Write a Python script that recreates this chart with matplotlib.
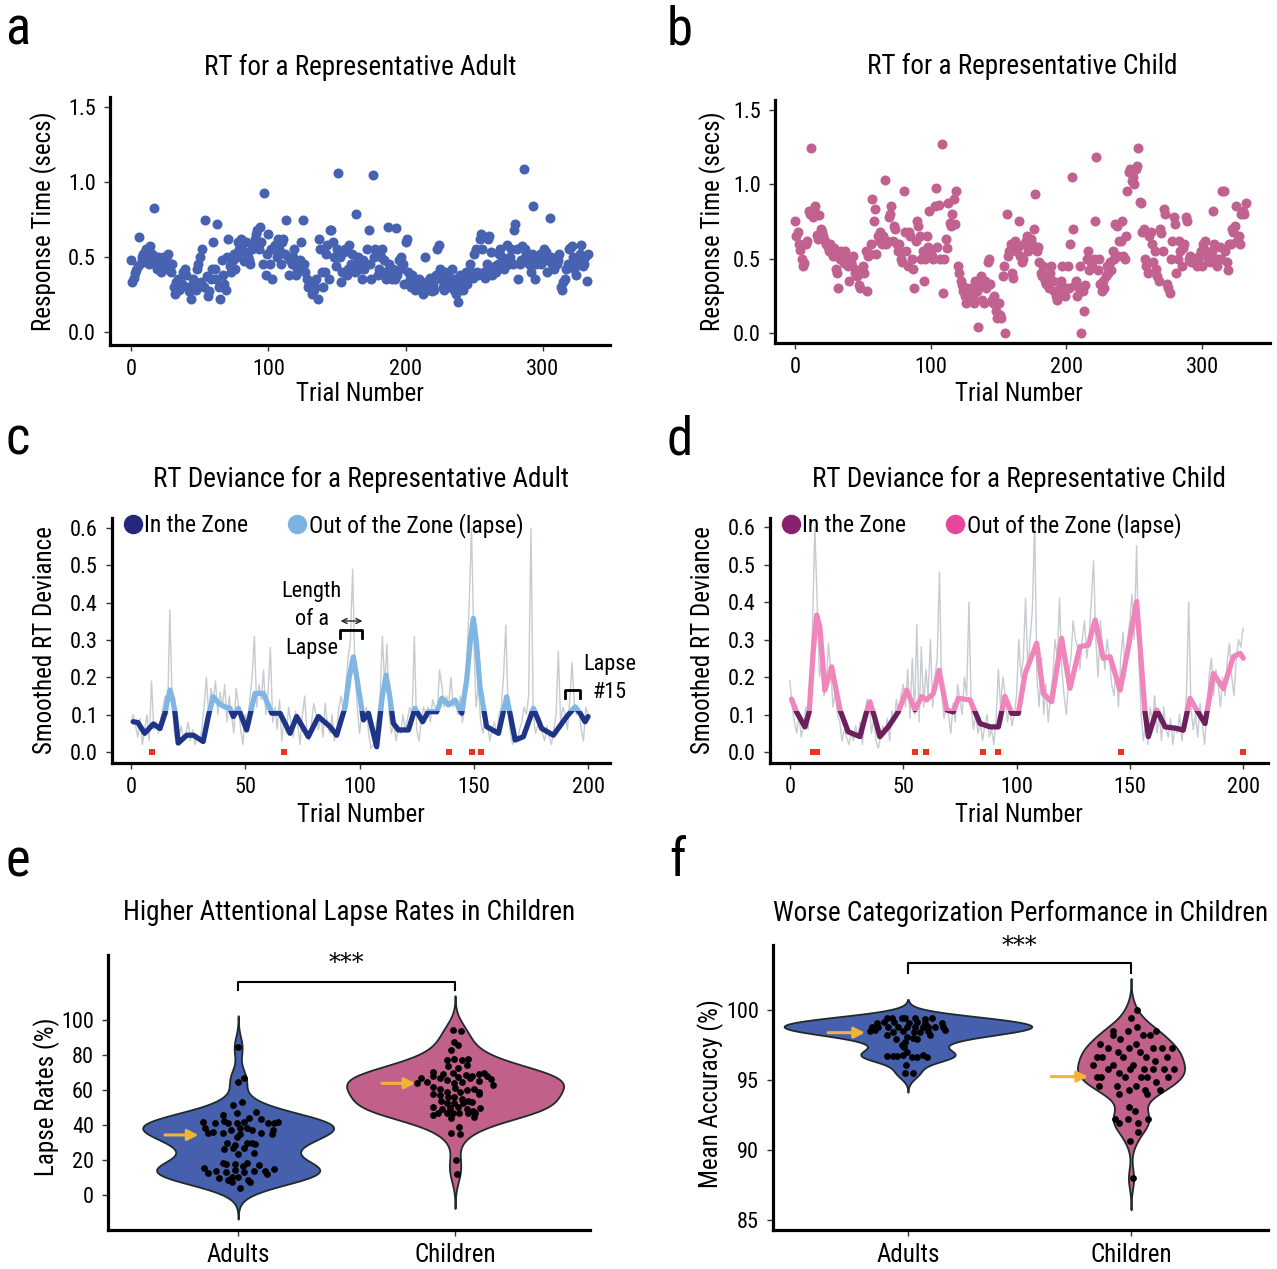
import numpy as np
import matplotlib
matplotlib.use("Agg")
import matplotlib.pyplot as plt
from matplotlib.patches import Rectangle
from matplotlib.lines import Line2D
from matplotlib import font_manager as fm

_avail = {f.name for f in fm.fontManager.ttflist}
_fams = [f for f in ['Roboto Condensed', 'Archivo Narrow', 'PT Sans Narrow', 'Liberation Sans Narrow']
         if f in _avail] + ['DejaVu Sans']
plt.rcParams['font.family'] = _fams

# ---------------- data ----------------
adult_rt = [
    0.48, 0.33, 0.36, 0.39, 0.41, 0.44, 0.63, 0.46, 0.50, 0.52,
    0.53, 0.55, 0.48, 0.45, 0.57, 0.52, 0.50, 0.83, 0.47, 0.42,
    0.50, 0.45, 0.40, 0.50, 0.49, 0.42, 0.47, 0.52, 0.45, 0.40,
    0.45, 0.30, 0.25, 0.33, 0.35, 0.28, 0.30, 0.32, 0.40, 0.42,
    0.38, 0.30, 0.27, 0.30, 0.22, 0.35, 0.34, 0.28, 0.42, 0.45,
    0.50, 0.33, 0.55, 0.30, 0.75, 0.37, 0.24, 0.27, 0.35, 0.42,
    0.60, 0.42, 0.35, 0.72, 0.30, 0.22, 0.48, 0.38, 0.32, 0.28,
    0.50, 0.62, 0.44, 0.40, 0.48, 0.52, 0.42, 0.50, 0.60, 0.55,
    0.62, 0.58, 0.47, 0.53, 0.60, 0.50, 0.48, 0.45, 0.55, 0.57,
    0.62, 0.65, 0.68, 0.55, 0.70, 0.60, 0.45, 0.93, 0.38, 0.52,
    0.65, 0.45, 0.55, 0.35, 0.55, 0.58, 0.50, 0.62, 0.55, 0.45,
    0.60, 0.62, 0.52, 0.75, 0.50, 0.38, 0.48, 0.45, 0.50, 0.55,
    0.38, 0.42, 0.45, 0.48, 0.60, 0.75, 0.45, 0.40, 0.35, 0.30,
    0.32, 0.30, 0.25, 0.28, 0.30, 0.35, 0.22, 0.62, 0.55, 0.40,
    0.30, 0.40, 0.52, 0.58, 0.35, 0.68, 0.68, 0.60, 0.50, 0.44,
    0.55, 1.06, 0.50, 0.33, 0.40, 0.53, 0.55, 0.38, 0.42, 0.58,
    0.45, 0.52, 0.45, 0.40, 0.79, 0.50, 0.45, 0.42, 0.35, 0.48,
    0.42, 0.45, 0.55, 0.68, 0.45, 0.35, 1.05, 0.50, 0.55, 0.52,
    0.38, 0.42, 0.50, 0.55, 0.48, 0.40, 0.35, 0.70, 0.45, 0.38,
    0.35, 0.42, 0.35, 0.69, 0.38, 0.48, 0.42, 0.50, 0.45, 0.32,
    0.60, 0.62, 0.40, 0.35, 0.30, 0.38, 0.32, 0.28, 0.34, 0.30,
    0.35, 0.28, 0.30, 0.25, 0.50, 0.33, 0.28, 0.30, 0.36, 0.27,
    0.32, 0.28, 0.38, 0.55, 0.58, 0.42, 0.35, 0.30, 0.28, 0.40,
    0.35, 0.38, 0.30, 0.32, 0.42, 0.28, 0.35, 0.25, 0.20, 0.33,
    0.38, 0.30, 0.28, 0.35, 0.40, 0.32, 0.38, 0.45, 0.40, 0.36,
    0.52, 0.55, 0.40, 0.38, 0.62, 0.65, 0.55, 0.40, 0.36, 0.45,
    0.62, 0.64, 0.53, 0.38, 0.42, 0.44, 0.40, 0.45, 0.52, 0.55,
    0.50, 0.47, 0.42, 0.45, 0.58, 0.45, 0.50, 0.55, 0.45, 0.68,
    0.72, 0.55, 0.35, 0.45, 0.48, 0.57, 1.09, 0.55, 0.52, 0.48,
    0.45, 0.40, 0.52, 0.84, 0.35, 0.45, 0.48, 0.50, 0.52, 0.45,
    0.47, 0.55, 0.53, 0.40, 0.48, 0.76, 0.50, 0.45, 0.42, 0.48,
    0.45, 0.48, 0.52, 0.30, 0.28, 0.33, 0.35, 0.42, 0.45, 0.55,
    0.56, 0.57, 0.50, 0.42, 0.38, 0.45, 0.48, 0.52, 0.58, 0.44,
    0.45, 0.50, 0.34, 0.52,
]

child_rt = [
    0.75, 0.65, 0.68, 0.60, 0.56, 0.50, 0.45, 0.47, 0.60, 0.62,
    0.82, 0.80, 1.24, 0.78, 0.83, 0.85, 0.66, 0.63, 0.79, 0.70,
    0.68, 0.65, 0.62, 0.60, 0.58, 0.55, 0.60, 0.54, 0.52, 0.57,
    0.43, 0.40, 0.30, 0.50, 0.55, 0.52, 0.47, 0.55, 0.50, 0.45,
    0.35, 0.48, 0.45, 0.52, 0.40, 0.42, 0.38, 0.32, 0.30, 0.42,
    0.45, 0.40, 0.55, 0.28, 0.52, 0.53, 0.60, 0.90, 0.75, 0.83,
    0.53, 0.65, 0.62, 0.68, 0.60, 0.65, 1.03, 0.60, 0.62, 0.78,
    0.80, 0.85, 0.62, 0.72, 0.70, 0.60, 0.55, 0.60, 0.50, 0.48,
    0.95, 0.68, 0.55, 0.45, 0.68, 0.65, 0.50, 0.43, 0.30, 0.62,
    0.75, 0.72, 0.65, 0.50, 0.55, 0.35, 0.50, 0.65, 0.58, 0.82,
    0.55, 0.52, 0.50, 0.85, 0.97, 0.58, 0.86, 0.50, 1.27, 0.27,
    0.50, 0.63, 0.57, 0.87, 0.74, 0.72, 0.80, 0.90, 0.73, 0.95,
    0.45, 0.40, 0.35, 0.32, 0.28, 0.25, 0.20, 0.30, 0.28, 0.22,
    0.30, 0.25, 0.20, 0.35, 0.28, 0.04, 0.33, 0.38, 0.22, 0.20,
    0.35, 0.30, 0.48, 0.50, 0.33, 0.22, 0.20, 0.25, 0.15, 0.10,
    0.20, 0.12, 0.10, 0.38, 0.45, 0.00, 0.80, 0.52, 0.55, 0.60,
    0.40, 0.37, 0.62, 0.55, 0.58, 0.75, 0.52, 0.48, 0.50, 0.60,
    0.62, 0.65, 0.55, 0.58, 0.63, 0.60, 0.70, 0.93, 0.55, 0.58,
    0.48, 0.40, 0.38, 0.45, 0.35, 0.33, 0.38, 0.30, 0.40, 0.45,
    0.35, 0.28, 0.25, 0.22, 0.27, 0.30, 0.35, 0.45, 0.30, 0.25,
    0.30, 0.45, 0.30, 0.60, 1.05, 0.70, 0.32, 0.35, 0.25, 0.30,
    0.45, 0.00, 0.28, 0.15, 0.32, 0.50, 0.55, 0.42, 0.48, 0.45,
    0.50, 0.75, 1.18, 0.42, 0.50, 0.33, 0.28, 0.35, 0.30, 0.38,
    0.45, 0.40, 0.48, 0.42, 0.55, 0.50, 0.73, 0.72, 0.52, 0.62,
    0.62, 0.75, 0.52, 0.50, 0.65, 0.95, 1.08, 1.10, 1.02, 1.05,
    1.00, 1.10, 1.12, 1.24, 0.88, 0.87, 0.68, 0.70, 0.50, 0.45,
    0.40, 0.65, 0.68, 0.60, 0.48, 0.55, 0.43, 0.38, 0.35, 0.70,
    0.67, 0.55, 0.83, 0.80, 0.33, 0.30, 0.27, 0.50, 0.62, 0.78,
    0.73, 0.40, 0.50, 0.62, 0.55, 0.45, 0.57, 0.60, 0.78, 0.75,
    0.50, 0.52, 0.48, 0.50, 0.50, 0.47, 0.45, 0.50, 0.52, 0.55,
    0.45, 0.60, 0.62, 0.55, 0.50, 0.52, 0.48, 0.55, 0.82, 0.60,
    0.50, 0.45, 0.50, 0.58, 0.50, 0.95, 0.95, 0.55, 0.48, 0.42,
    0.60, 0.60, 0.70, 0.68, 0.72, 0.85, 0.62, 0.65, 0.60, 0.80,
    0.82, 0.80, 0.87,
]

adult_dev_raw = [
    0.08, 0.10, 0.07, 0.04, 0.09, 0.02, 0.06, 0.10, 0.03, 0.19,
    0.06, 0.08, 0.05, 0.09, 0.12, 0.15, 0.10, 0.38, 0.14, 0.05,
    0.02, 0.04, 0.07, 0.03, 0.05, 0.08, 0.03, 0.06, 0.02, 0.04,
    0.03, 0.06, 0.12, 0.20, 0.10, 0.17, 0.14, 0.19, 0.10, 0.16,
    0.12, 0.18, 0.08, 0.15, 0.10, 0.05, 0.17, 0.13, 0.06, 0.02,
    0.10, 0.08, 0.14, 0.20, 0.31, 0.12, 0.18, 0.14, 0.22, 0.10,
    0.16, 0.28, 0.08, 0.12, 0.06, 0.14, 0.03, 0.09, 0.05, 0.12,
    0.08, 0.04, 0.11, 0.07, 0.02, 0.10, 0.15, 0.05, 0.03, 0.08,
    0.13, 0.10, 0.06, 0.10, 0.04, 0.13, 0.07, 0.05, 0.10, 0.03,
    0.06, 0.12, 0.15, 0.10, 0.18, 0.25, 0.30, 0.49, 0.22, 0.12,
    0.05, 0.10, 0.08, 0.12, 0.05, 0.01, 0.02, 0.06, 0.10, 0.15,
    0.31, 0.18, 0.29, 0.10, 0.05, 0.08, 0.03, 0.07, 0.05, 0.10,
    0.06, 0.09, 0.12, 0.10, 0.31, 0.06, 0.03, 0.08, 0.12, 0.10,
    0.12, 0.08, 0.14, 0.12, 0.10, 0.22, 0.18, 0.12, 0.15, 0.13,
    0.20, 0.12, 0.14, 0.10, 0.15, 0.08, 0.12, 0.25, 0.40, 0.60,
    0.30, 0.12, 0.18, 0.08, 0.05, 0.10, 0.07, 0.03, 0.06, 0.08,
    0.05, 0.10, 0.12, 0.20, 0.34, 0.12, 0.05, 0.02, 0.04, 0.03,
    0.06, 0.08, 0.12, 0.10, 0.15, 0.60, 0.10, 0.05, 0.07, 0.09,
    0.05, 0.03, 0.07, 0.04, 0.02, 0.06, 0.10, 0.27, 0.08, 0.12,
    0.10, 0.06, 0.14, 0.24, 0.13, 0.10, 0.12, 0.06, 0.03, 0.12,
    0.10,
]
adult_dev_trials = [1, 3, 6, 9.8, 12.7, 14.9, 16, 17.1, 18.3, 19.3, 20.7, 24.4, 27.3, 31.6,
                    34, 36, 38.5, 41.1, 43.3, 44.8, 47, 50.6, 52.5, 54.3, 57.9, 61.6, 65.2,
                    69.6, 72.5, 77.6, 82, 87.1, 90, 93.7, 95.5, 97.3, 99.3, 101.7, 103.9,
                    107.5, 110, 111.6, 113.2, 114.8, 117, 121.4, 124.3, 127.6, 130.1, 133.8,
                    136, 138.9, 141.8, 144.7, 146.9, 148.5, 149.8, 151.2, 152.7, 155.6, 160.8,
                    164.4, 168.1, 171.7, 176.1, 179.7, 184.8, 190.7, 194.3, 196.5, 198.7, 200]
adult_dev_smooth = [0.081, 0.079, 0.050, 0.075, 0.063, 0.104, 0.140, 0.166, 0.140, 0.104, 0.024,
                    0.045, 0.045, 0.028, 0.100, 0.148, 0.130, 0.121, 0.117, 0.095, 0.117, 0.059,
                    0.110, 0.157, 0.157, 0.104, 0.104, 0.050, 0.095, 0.041, 0.095, 0.068, 0.045,
                    0.121, 0.200, 0.255, 0.180, 0.086, 0.104, 0.014, 0.150, 0.206, 0.150, 0.077,
                    0.059, 0.059, 0.117, 0.081, 0.108, 0.108, 0.144, 0.126, 0.139, 0.104, 0.193,
                    0.300, 0.358, 0.290, 0.175, 0.068, 0.050, 0.148, 0.032, 0.041, 0.117, 0.063,
                    0.045, 0.095, 0.121, 0.104, 0.081, 0.095]
adult_lapse_marks = [9, 67, 139, 149, 153]

child_dev_raw = [
    0.19, 0.12, 0.08, 0.05, 0.10, 0.04, 0.07, 0.12, 0.06, 0.15,
    0.35, 0.60, 0.40, 0.20, 0.25, 0.15, 0.18, 0.29, 0.22, 0.12,
    0.16, 0.10, 0.08, 0.03, 0.06, 0.04, 0.02, 0.05, 0.03, 0.07,
    0.04, 0.08, 0.02, 0.10, 0.14, 0.12, 0.05, 0.09, 0.03, 0.01,
    0.04, 0.07, 0.05, 0.09, 0.03, 0.11, 0.08, 0.14, 0.10, 0.15,
    0.18, 0.12, 0.22, 0.09, 0.25, 0.10, 0.34, 0.08, 0.28, 0.12,
    0.22, 0.15, 0.30, 0.12, 0.20, 0.25, 0.48, 0.16, 0.09, 0.12,
    0.10, 0.05, 0.13, 0.08, 0.18, 0.14, 0.10, 0.20, 0.15, 0.40,
    0.12, 0.06, 0.10, 0.05, 0.08, 0.03, 0.07, 0.10, 0.04, 0.06,
    0.02, 0.09, 0.22, 0.12, 0.20, 0.15, 0.08, 0.12, 0.07, 0.10,
    0.15, 0.30, 0.20, 0.25, 0.41, 0.22, 0.30, 0.38, 0.61, 0.20,
    0.12, 0.25, 0.10, 0.18, 0.08, 0.15, 0.20, 0.30, 0.25, 0.41,
    0.22, 0.15, 0.10, 0.20, 0.25, 0.35, 0.30, 0.28, 0.22, 0.30,
    0.35, 0.25, 0.30, 0.40, 0.51, 0.30, 0.20, 0.35, 0.28, 0.22,
    0.30, 0.25, 0.18, 0.15, 0.22, 0.12, 0.25, 0.32, 0.20, 0.30,
    0.35, 0.42, 0.30, 0.55, 0.25, 0.10, 0.03, 0.08, 0.02, 0.12,
    0.08, 0.15, 0.05, 0.10, 0.03, 0.12, 0.06, 0.04, 0.09, 0.02,
    0.07, 0.05, 0.10, 0.03, 0.08, 0.15, 0.40, 0.12, 0.06, 0.10,
    0.04, 0.13, 0.08, 0.02, 0.10, 0.20, 0.25, 0.15, 0.22, 0.18,
    0.12, 0.20, 0.15, 0.24, 0.29, 0.20, 0.15, 0.25, 0.30, 0.28,
    0.33,
]
child_dev_trials = [0.7, 2.9, 6.6, 8.5, 10.3, 11.8, 13.2, 15.4, 18.4, 22.1, 25.7, 30.9, 33.8,
                    35.3, 37.5, 39.7, 43.4, 47.8, 51.5, 55.2, 58.1, 60.3, 63.3, 65.8, 69.2,
                    72.1, 74.3, 79.5, 83.9, 88.3, 92.0, 94.9, 97.9, 100.8, 103.8, 108.9, 111.8,
                    115.5, 119.9, 123.6, 128.0, 131.7, 134.7, 138.3, 141.3, 145.7, 149.4,
                    153.0, 156.7, 158.2, 161.9, 165.6, 170.7, 173.6, 176.6, 179.5, 183.2,
                    186.9, 191.3, 195.7, 198.7, 200.1]
child_dev_smooth = [0.141, 0.107, 0.067, 0.107, 0.272, 0.365, 0.334, 0.165, 0.227, 0.112, 0.054,
                    0.041, 0.107, 0.134, 0.090, 0.041, 0.067, 0.107, 0.165, 0.112, 0.148, 0.139,
                    0.156, 0.218, 0.112, 0.107, 0.143, 0.139, 0.076, 0.067, 0.067, 0.148, 0.103,
                    0.103, 0.209, 0.290, 0.156, 0.134, 0.303, 0.170, 0.281, 0.285, 0.352, 0.250,
                    0.254, 0.165, 0.281, 0.401, 0.107, 0.041, 0.112, 0.067, 0.063, 0.058, 0.143,
                    0.112, 0.076, 0.209, 0.169, 0.254, 0.263, 0.250]
child_lapse_marks = [10, 11, 12, 55, 60, 85, 92, 146, 200]
zone_threshold = 0.11

lapse_adults = [84.4, 64.8, 67.0, 51.4, 52.9,
                41.9, 41.3, 45.7, 42.5, 41.0, 46.7, 41.3, 41.9, 43.8, 47.6, 43.2, 41.3, 41.0, 41.5,
                38.1, 35.6, 36.2, 35.6, 37.1, 38.1, 38.1, 37.1, 35.6, 37.1, 34.7,
                33.0, 34.7, 29.5, 28.6, 29.5, 29.9, 29.1,
                26.3, 26.7, 27.0, 24.2, 23.4,
                18.5, 17.5, 17.7, 16.6, 18.5, 17.1,
                15.2, 13.9, 12.4, 13.3, 14.3, 13.3, 13.9, 13.9, 11.8, 14.7,
                9.5, 8.6, 10.5, 10.5, 8.6, 7.6, 7.2, 4.2]
lapse_adults_jitter = [0.00, 0.00, 0.025, -0.025, 0.017,
                       -0.16, -0.106, -0.071, -0.063, -0.045, -0.006, -0.006, 0.028, 0.051, 0.083, 0.106, 0.137, 0.163, 0.183,
                       -0.152, -0.141, -0.114, -0.068, -0.034, 0.009, 0.04, 0.065, 0.104, 0.16, 0.155,
                       -0.006, 0.009, -0.052, -0.014, 0.04, 0.063, 0.078,
                       -0.065, -0.025, 0.028, 0.071, -0.003,
                       -0.071, -0.055, -0.014, 0.022, 0.043, 0.094,
                       -0.157, -0.101, -0.141, -0.055, -0.014, 0.028, 0.071, 0.124, 0.132, 0.166,
                       -0.086, -0.045, -0.029, -0.003, 0.045, 0.055, -0.029, 0.009]
lapse_children = [94.3, 93.7, 87.6, 85.7, 82.9, 77.1, 77.5, 77.1, 77.7, 73.7, 72.4, 74.3,
                  70.5, 69.1, 69.9, 67.6, 68.4, 68.0, 69.1, 69.9, 68.0,
                  66.7, 63.8, 64.8, 68.0, 66.7, 65.7, 63.8, 64.8, 66.7, 65.3, 66.1, 62.9,
                  61.5, 60.4, 59.0, 61.0, 59.0, 60.0, 60.4, 59.0,
                  57.7, 57.1, 56.2, 56.2, 54.7, 53.9, 57.7,
                  53.9, 52.8, 52.4, 52.4, 53.1,
                  50.1, 49.0, 49.7, 50.5, 49.0, 48.2, 49.5,
                  45.7, 47.0, 46.7, 46.7, 47.0, 47.0, 46.7, 44.4, 43.8,
                  39.0, 35.6, 34.9, 20.0, 11.8]
lapse_children_jitter = [-0.011, 0.028, -0.003, 0.015, -0.02, -0.038, -0.005, 0.031, 0.061, -0.031, 0.015, 0.054,
                         -0.1, -0.054, -0.011, 0.015, 0.049, 0.077, 0.112, 0.134, 0.146,
                         -0.158, -0.177, -0.131, -0.1, -0.069, -0.038, -0.005, 0.031, 0.069, 0.108, 0.164, 0.174,
                         -0.1, -0.069, -0.035, 0.0, 0.023, 0.057, 0.088, 0.112,
                         -0.103, -0.069, -0.031, -0.003, 0.031, 0.061, 0.108,
                         -0.066, -0.035, -0.005, 0.035, 0.077,
                         -0.103, -0.061, -0.023, 0.015, 0.054, 0.084, 0.115,
                         -0.1, -0.077, -0.038, -0.008, 0.02, 0.061, 0.092, 0.088, -0.018,
                         0.02, -0.02, 0.023, 0.002, 0.008]

acc_adults = [99.40, 99.40, 99.40, 99.40, 99.40, 99.36, 99.40,
              99.10, 99.17, 99.17, 99.10, 99.17, 99.05, 99.10,
              98.76, 98.76, 98.81, 98.76, 98.76, 98.76, 98.81, 98.76, 98.81, 98.76, 98.57,
              98.52, 98.57, 98.21, 98.45, 98.52, 98.45, 98.45, 98.52, 98.21,
              97.90, 98.10, 97.90, 97.74, 97.50, 97.33, 97.98,
              96.71, 96.71, 96.71, 96.79, 96.67, 96.67, 96.79, 96.67, 97.02,
              96.07, 95.48, 95.48]
acc_adults_jitter = [-0.096, -0.073, -0.028, -0.013, 0.031, 0.076, 0.106,
                     -0.141, -0.108, -0.063, 0.004, 0.039, 0.076, 0.151,
                     -0.163, -0.133, -0.088, -0.043, -0.006, 0.031, 0.069, 0.091, 0.121, 0.158, 0.166,
                     -0.170, -0.148, -0.096, -0.066, -0.024, 0.027, 0.054, 0.091, 0.099,
                     -0.054, -0.006, 0.039, -0.013, -0.028, -0.018, 0.024,
                     -0.096, -0.069, -0.048, -0.024, 0.016, 0.039, 0.066, 0.084, -0.006,
                     -0.010, -0.013, 0.024]
acc_children = [100.0, 99.40, 98.81, 98.52, 98.21, 98.52, 97.90, 98.21, 98.21, 98.52,
                97.57, 97.26, 97.02, 96.67, 97.26, 97.57, 97.02, 96.67, 97.26, 97.26, 97.26, 96.67,
                96.07, 96.67, 96.67, 95.76, 96.07, 95.48, 95.76, 96.07, 95.76, 95.76, 96.38, 95.76, 95.76,
                95.19, 95.19, 95.19, 95.19, 95.19, 94.88, 95.19,
                94.57, 94.57, 94.29, 94.57, 94.29, 94.00, 94.29, 94.00,
                93.10, 92.79, 92.19, 91.90, 92.19, 91.90, 92.19, 91.26, 90.67, 87.98]
acc_children_jitter = [0.025, -0.001, 0.028, -0.082, -0.079, -0.012, -0.049, 0.055, 0.085, 0.111,
                       -0.139, -0.102, -0.057, -0.034, -0.007, 0.022, 0.040, 0.067, 0.097, 0.138, 0.182, 0.160,
                       -0.172, -0.154, -0.132, -0.102, -0.079, -0.052, -0.004, 0.007, 0.058, 0.097, 0.108, 0.148, 0.193,
                       -0.154, -0.136, -0.027, 0.045, 0.070, 0.112, 0.167,
                       -0.142, -0.061, -0.007, 0.022, 0.063, 0.073, 0.130, -0.054,
                       -0.007, 0.018, -0.072, -0.052, -0.012, 0.030, 0.078, 0.030, -0.004, 0.007]
groups = ['Adults', 'Children']
rep_lapse = [34.3, 63.8]      # representative subjects (arrows)
rep_acc = [98.38, 95.24]

# ---------------- style ----------------
BLUE = '#4762b0'
PINK = '#c0618f'
NAVY = '#1e3587'
LIGHTBLUE = '#80b6e4'
PURPLE = '#6b1f5c'
LIGHTPINK = '#ef85bb'
GRAY = '#c6cbd0'
RED = '#ea3420'
ARROW = '#f2b438'

W, H = 1277, 1269
fig = plt.figure(figsize=(W / 100, H / 100), dpi=100)


def add_ax(l, t, r, b):
    return fig.add_axes([l / W, 1 - b / H, (r - l) / W, (b - t) / H])


def style(ax):
    for s in ['top', 'right']:
        ax.spines[s].set_visible(False)
    for s in ['left', 'bottom']:
        ax.spines[s].set_linewidth(2.3)
    ax.tick_params(direction='out', length=4, width=1.0, labelsize=16, pad=6, color='#333333')


TITLE_FS = 19.5
LABEL_FS = 18

# ----- a -----
ax = add_ax(110, 97, 610, 345)
style(ax)
ax.scatter(np.arange(len(adult_rt)), adult_rt, s=52, color=BLUE, linewidths=0, zorder=3)
ax.set_xlim(-15.3, 348.9)
ax.set_ylim(-0.087, 1.567)
ax.set_xticks([0, 100, 200, 300])
ax.set_yticks([0.0, 0.5, 1.0, 1.5])
ax.set_yticklabels(['0.0', '0.5', '1.0', '1.5'])
ax.set_title('RT for a Representative Adult', fontsize=TITLE_FS, pad=16)
ax.set_xlabel('Trial Number', fontsize=LABEL_FS)
ax.set_ylabel('Response Time (secs)', fontsize=LABEL_FS)
ax.xaxis.set_label_coords(0.5, -0.15)
ax.yaxis.set_label_coords(-0.105, 0.5)

# ----- b -----
ax = add_ax(775, 100, 1270, 343)
style(ax)
ax.scatter(np.arange(len(child_rt)), child_rt, s=52, color=PINK, linewidths=0, zorder=3)
ax.set_xlim(-14.7, 350)
ax.set_ylim(-0.067, 1.564)
ax.set_xticks([0, 100, 200, 300])
ax.set_yticks([0.0, 0.5, 1.0, 1.5])
ax.set_yticklabels(['0.0', '0.5', '1.0', '1.5'])
ax.set_title('RT for a Representative Child', fontsize=TITLE_FS, pad=19)
ax.set_xlabel('Trial Number', fontsize=LABEL_FS)
ax.set_ylabel('Response Time (secs)', fontsize=LABEL_FS)
ax.xaxis.set_label_coords(0.493, -0.16)
ax.yaxis.set_label_coords(-0.1, 0.5)


def deviance_panel(ax, raw, tr, sm, marks, dark, light, legdark, leglight, xlim, ylim):
    style(ax)
    ax.plot(np.arange(len(raw)), raw, color=GRAY, lw=1.0, zorder=2)
    for col, lo, hi in [(dark, ylim[0] - 1, zone_threshold), (light, zone_threshold, ylim[1] + 1)]:
        ln, = ax.plot(tr, sm, color=col, lw=3.8, solid_joinstyle='round', solid_capstyle='round', zorder=3)
        clip = Rectangle((xlim[0] - 10, lo), xlim[1] - xlim[0] + 20, hi - lo, transform=ax.transData)
        ln.set_clip_path(clip)
    ax.scatter(marks, np.zeros(len(marks)), marker='s', s=20, color=RED, linewidths=0, zorder=4)
    ax.set_xlim(*xlim)
    ax.set_ylim(*ylim)
    ax.set_xticks([0, 50, 100, 150, 200])
    ax.set_yticks([0.0, 0.1, 0.2, 0.3, 0.4, 0.5, 0.6])
    ax.set_yticklabels(['0.0', '0.1', '0.2', '0.3', '0.4', '0.5', '0.6'])
    ax.set_xlabel('Trial Number', fontsize=LABEL_FS)
    ax.set_ylabel('Smoothed RT Deviance', fontsize=LABEL_FS)
    ax.xaxis.set_label_coords(0.5, -0.165)
    ax.yaxis.set_label_coords(-0.11, 0.5)
    handles = [Line2D([], [], marker='o', ls='', ms=13, color=legdark),
               Line2D([], [], marker='o', ls='', ms=13, color=leglight)]
    ax.legend(handles, ['In the Zone', 'Out of the Zone (lapse)'], loc='upper left',
              bbox_to_anchor=(0.02, 1.02), ncol=2, frameon=False, fontsize=17,
              handlelength=0.9, handletextpad=0.05, columnspacing=1.6, borderaxespad=0, borderpad=0)


# ----- c -----
ax = add_ax(112, 518, 610, 763)
deviance_panel(ax, adult_dev_raw, adult_dev_trials, adult_dev_smooth, adult_lapse_marks,
               NAVY, LIGHTBLUE, '#23287a', '#7db3e3', (-8.3, 209.6), (-0.0295, 0.627))
ax.set_title('RT Deviance for a Representative Adult', fontsize=TITLE_FS, pad=22)
ax.text(79, 0.354, 'Length\nof a\nLapse', ha='center', va='center', fontsize=16, linespacing=1.45)
ax.annotate('', xy=(102.5, 0.351), xytext=(90.5, 0.351),
            arrowprops=dict(arrowstyle='<->', lw=1.0, color='#222222', mutation_scale=9))
ax.plot([91.5, 91.5, 101, 101], [0.305, 0.327, 0.327, 0.305], color='black', lw=2.0, zorder=5)
ax.plot([190, 190, 196.5, 196.5], [0.145, 0.166, 0.166, 0.145], color='black', lw=2.0, zorder=5)
ax.text(209.5, 0.197, 'Lapse\n#15', ha='center', va='center', fontsize=16, linespacing=1.45, clip_on=False)

# ----- d -----
ax = add_ax(770, 518, 1268, 763)
deviance_panel(ax, child_dev_raw, child_dev_trials, child_dev_smooth, child_lapse_marks,
               PURPLE, LIGHTPINK, '#8a2070', '#e8469d', (-8.8, 211), (-0.0293, 0.624))
ax.set_title('RT Deviance for a Representative Child', fontsize=TITLE_FS, pad=22)


def violin(ax, pos, data, jitter, bw, halfwidth, color, cut=3):
    d = np.asarray(data, dtype=float)
    grid = np.linspace(d.min() - cut * bw, d.max() + cut * bw, 400)
    dens = np.exp(-0.5 * ((grid[:, None] - d[None, :]) / bw) ** 2).sum(axis=1)
    dens = dens / dens.max() * halfwidth
    ax.fill_betweenx(grid, pos - dens, pos + dens, facecolor=color, edgecolor='#1f2a2a',
                     linewidth=1.3, zorder=2)
    ax.scatter(pos + np.asarray(jitter), d, s=24, color='black', linewidths=0, zorder=3)


def group_panel(ax):
    style(ax)
    ax.set_xticks([0, 1])
    ax.set_xticklabels(groups, fontsize=18)
    ax.tick_params(axis='x', pad=5)


# ----- e -----
ax = add_ax(108, 955, 590, 1230)
group_panel(ax)
violin(ax, 0, lapse_adults, lapse_adults_jitter, 6.0, 0.44, '#4660ae')
violin(ax, 1, lapse_children, lapse_children_jitter, 6.5, 0.50, '#c0608b')
for pos, val in zip([0, 1], rep_lapse):
    ax.annotate('', xy=(pos - 0.17, val), xytext=(pos - 0.35, val),
                arrowprops=dict(arrowstyle='-|>', color=ARROW, lw=2.2, mutation_scale=16), zorder=4)
ax.plot([0, 0, 1, 1], [117, 121.9, 121.9, 117], color='black', lw=1.5)
ax.text(0.5, 125.5, '***', ha='center', va='bottom', fontsize=17, family='DejaVu Serif')
ax.set_xlim(-0.6, 1.622)
ax.set_ylim(-20, 137.1)
ax.set_yticks([0, 20, 40, 60, 80, 100])
ax.set_title('Higher Attentional Lapse Rates in Children', fontsize=TITLE_FS, pad=25)
ax.set_ylabel('Lapse Rates (%)', fontsize=LABEL_FS)
ax.yaxis.set_label_coords(-0.1, 0.485)

# ----- f -----
ax = add_ax(773, 945, 1268, 1230)
group_panel(ax)
violin(ax, 0, acc_adults, acc_adults_jitter, 0.45, 0.555, '#4660ae')
violin(ax, 1, acc_children, acc_children_jitter, 0.75, 0.24, '#c0608b')
for pos, val in zip([0, 1], rep_acc):
    ax.annotate('', xy=(pos - 0.18, val), xytext=(pos - 0.37, val),
                arrowprops=dict(arrowstyle='-|>', color=ARROW, lw=2.2, mutation_scale=16), zorder=4)
ax.plot([0, 0, 1, 1], [102.67, 103.34, 103.34, 102.67], color='black', lw=1.5)
ax.text(0.5, 103.7, '***', ha='center', va='bottom', fontsize=17, family='DejaVu Serif', clip_on=False)
ax.set_xlim(-0.605, 1.614)
ax.set_ylim(84.29, 104.64)
ax.set_yticks([85, 90, 95, 100])
ax.set_title('Worse Categorization Performance in Children', fontsize=TITLE_FS, pad=17)
ax.set_ylabel('Mean Accuracy (%)', fontsize=LABEL_FS)
ax.yaxis.set_label_coords(-0.1, 0.48)

# panel letters
for letter, (x, y) in {'a': (18, 30), 'b': (680, 30), 'c': (18, 440),
                       'd': (680, 440), 'e': (18, 862), 'f': (678, 862)}.items():
    fig.text(x / W, 1 - y / H, letter, fontsize=38, ha='center', va='center')

fig.savefig('out.png', dpi=100)
